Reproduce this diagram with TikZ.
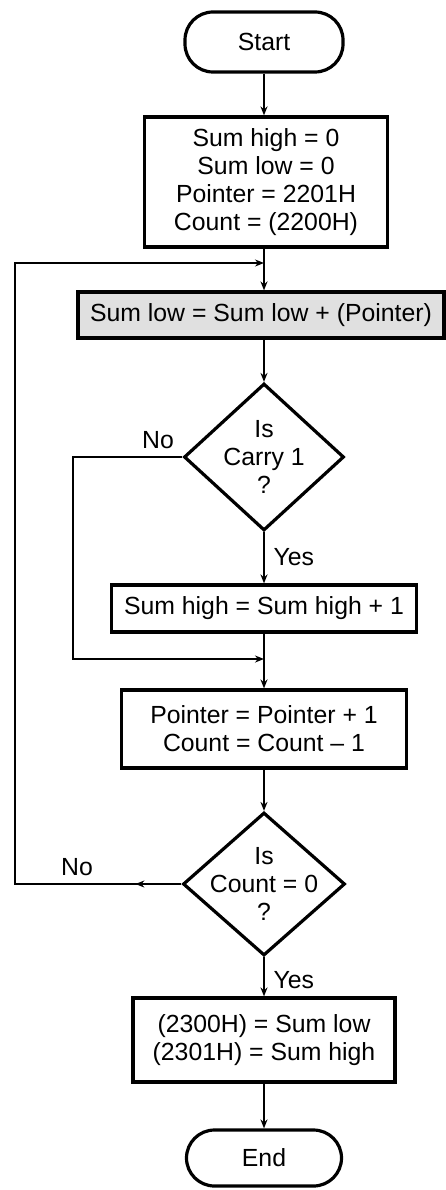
\documentclass[tikz,border=0pt]{standalone}
\usepackage{fontspec}
\setmainfont{Liberation Sans}
\usetikzlibrary{shapes.geometric,arrows.meta,decorations.markings}
\begin{document}
\begin{tikzpicture}[x=1pt,y=1pt,
  txt/.style={font=\fontsize{24.8}{28}\selectfont,align=center},
  box/.style={draw,line width=3.2pt,inner sep=0pt,txt},
  term/.style={box,rounded corners=28pt},
  dec/.style={draw,diamond,line width=3.2pt,inner sep=0pt},
  conn/.style={line width=2.4pt},
  tip/.tip={Stealth[length=9pt,width=7pt]},
  arr/.style={conn,-tip},
  midarr/.style={postaction={decorate},decoration={markings,mark=at position #1 with {\arrow{tip}}}},
]
\useasboundingbox (0,0) rectangle (446,-1190);

\node[term,minimum width=158pt,minimum height=60pt] (start) at (264,-42) {Start};
\node[box,minimum width=243pt,minimum height=130pt] (init) at (266,-182)
  {Sum high = 0\\Sum low = 0\\Pointer = 2201H\\Count = (2200H)};
\node[box,fill=black!12,minimum width=366pt,minimum height=46pt] (sumlow) at (261,-315)
  {Sum low = Sum low + (Pointer)};
\node[dec,minimum width=160pt,minimum height=147pt] (carry) at (264,-457) {};
\node[txt] at (carry) {Is\\Carry 1\\?};
\node[box,minimum width=305pt,minimum height=47pt] (sumhigh) at (264,-608.5)
  {Sum high = Sum high + 1};
\node[box,minimum width=285pt,minimum height=78pt] (ptr) at (264,-729)
  {Pointer = Pointer + 1\\Count = Count -- 1};
\node[dec,minimum width=162pt,minimum height=143pt] (cnt) at (264,-884) {};
\node[txt] at (cnt) {Is\\Count = 0\\?};
\node[box,minimum width=262pt,minimum height=84pt] (store) at (264,-1040)
  {(2300H) = Sum low\\(2301H) = Sum high};
\node[term,minimum width=155pt,minimum height=56pt] (end) at (264,-1158) {End};

% junction coordinates
\coordinate (j1) at (264,-263);
\coordinate (j2) at (264,-659);
\coordinate (c1) at (73,-457);
\coordinate (c2) at (73,-659);
\coordinate (l1) at (15,-884);
\coordinate (l2) at (15,-263);

% main flow
\draw[arr] (start) -- (start |- init.north);
\draw[conn] (init.south -| j1) -- (j1);
\draw[arr] (j1) -- (sumlow.north -| j1);
\draw[arr] (sumlow.south -| carry.north) -- (carry.north);
\draw[arr] (carry.south) -- (sumhigh.north);
\draw[conn] (sumhigh.south) -- (j2);
\draw[arr] (j2) -- (ptr.north);
\draw[arr] (ptr.south) -- (cnt.north);
\draw[arr] (cnt.south) -- (store.north);
\draw[arr] (store.south) -- (end.north);

% branches
\draw[arr] (carry.west) -- (c1) -- (c2) -- (j2);
\draw[arr,midarr=46pt] (cnt.west) -- (l1) -- (l2) -- (j1);

% labels
\node[txt] at (158,-440) {No};
\node[txt,anchor=west] at (270,-557) {Yes};
\node[txt] at (77,-867) {No};
\node[txt,anchor=west] at (270,-980) {Yes};
\end{tikzpicture}
\end{document}
